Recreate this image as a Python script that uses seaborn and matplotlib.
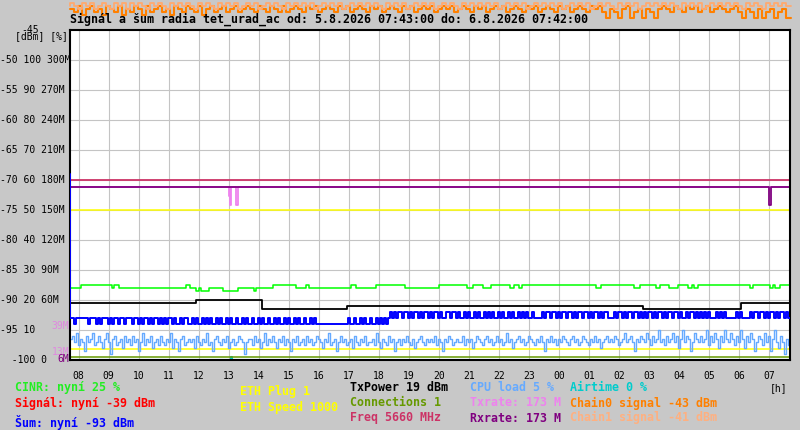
import numpy as np
import matplotlib
matplotlib.use("Agg")
import matplotlib.pyplot as plt
import matplotlib.transforms as mtransforms
import seaborn as sns

# time axis: hours since midnight of 5.8.2026
t_start = 7 + 43 / 60
t_end = 31 + 42 / 60
step_fine = 4 / 60    # noise / CPU samples
step_chain = 8 / 60   # chain signal samples

hour_ticks = list(range(8, 32))
hour_labels = ["08", "09", "10", "11", "12", "13", "14", "15", "16", "17", "18", "19",
               "20", "21", "22", "23", "00", "01", "02", "03", "04", "05", "06", "07"]

grid_dbm = [-50, -55, -60, -65, -70, -75, -80, -85, -90, -95]
ytick_dbm = [-50, -55, -60, -65, -70, -75, -80, -85, -90, -95, -100]
ytick_text = ["-50 100 300M", "-55 90 270M", "-60 80 240M", "-65 70 210M", "-70 60 180M",
              "-75 50 150M", "-80 40 120M", "-85 30 90M", "-90 20 60M", "-95 10", "  -100 0"]
rate_marks = [39, 13, 6]  # M, coloured marks on the left axis
rate_mark_colors = ["#e088e0", "#e088e0", "#800080"]

# CINR [%] - step series (change time, value)
cinr_t = [7.72, 8.08, 9.11, 9.18, 9.35, 11.58, 11.72, 11.91, 12.02, 12.07, 12.36, 12.8, 13.3,
          13.83, 13.9, 14.47, 15.24, 15.58, 15.69, 17.07, 17.23, 17.91, 18.86, 20.02, 20.94,
          21.13, 21.47, 21.74, 22.36, 22.52, 22.66, 22.77, 25.24, 25.41, 26.5, 26.69, 27.24,
          27.36, 27.66, 27.97, 28.3, 28.42, 28.5, 28.63, 30.36, 30.47, 31.02, 31.12, 31.2, 31.36]
cinr_v = [24, 25, 24, 25, 24, 25, 24, 23, 24, 23, 24, 23, 24, 23, 24, 25, 24, 25, 24, 25,
          24, 25, 24, 25, 24, 25, 24, 25, 24, 25, 24, 25, 24, 25, 24, 25, 24, 25, 24, 25,
          24, 25, 24, 25, 24, 25, 24, 25, 24, 25]

# TxPower trace (black), in graph dBm units
txpower_t = [7.72, 11.91, 14.11, 16.94, 26.8, 30.06]
txpower_v = [-90.55, -90.0, -91.55, -91.0, -91.55, -90.55]

# Txrate / Rxrate [M]
txrate_t = [7.72, 13.0, 13.03, 13.06, 13.08, 13.26, 13.32]
txrate_v = [173, 164, 173, 155, 173, 155, 173]
rxrate_t = [7.72, 31.01, 31.07]
rxrate_v = [173, 155, 173]

# Airtime [%]
airtime_t = [7.72, 13.07, 13.12]
airtime_v = [0, 1, 0]

# flat traces, graph dBm units
freq_level = -70.0
eth_speed_level = -75.0
eth_plug_level = -98.2
connections_level = -99.5

# noise [dBm], 4 min samples (first value = start of the trace)
noise = [-69,
         -93, -93, -94, -93, -93, -93, -93, -93, -93, -94, -93, -93, -93, -94, -93,
         -94, -93, -93, -93, -94, -93, -94, -93, -93, -94, -93, -93, -94, -93, -93,
         -93, -94, -93, -93, -94, -93, -94, -93, -93, -94, -93, -94, -93, -93, -94,
         -93, -94, -93, -94, -93, -93, -94, -93, -94, -94, -93, -94, -93, -93, -94,
         -94, -93, -94, -93, -94, -94, -93, -94, -93, -94, -93, -94, -94, -93, -94,
         -93, -94, -94, -93, -94, -93, -94, -94, -93, -94, -94, -93, -94, -93, -94,
         -94, -93, -94, -94, -93, -94, -93, -94, -94, -93, -94, -94, -93, -94, -93,
         -94, -94, -93, -94, -93, -94, -94, -93, -94, -93, -94, -94, -93, -94, -94,
         -93, -94, -93, -94, -94, -94, -94, -94, -94, -94, -94, -94, -94, -94, -94,
         -94, -94, -94, -94, -93, -94, -94, -93, -94, -94, -93, -94, -93, -94, -94,
         -93, -94, -94, -93, -94, -93, -94, -93, -94, -93, -92, -93, -92, -93, -92,
         -92, -93, -92, -92, -93, -92, -93, -92, -92, -93, -92, -93, -92, -92, -93,
         -92, -93, -92, -92, -93, -92, -93, -93, -92, -92, -93, -92, -92, -93, -92,
         -93, -93, -92, -93, -92, -93, -93, -92, -93, -92, -93, -93, -92, -93, -92,
         -93, -92, -93, -93, -92, -93, -92, -93, -93, -92, -93, -92, -93, -93, -92,
         -93, -92, -93, -92, -93, -93, -92, -93, -93, -93, -93, -92, -93, -92, -92,
         -93, -92, -92, -93, -92, -93, -92, -92, -93, -92, -92, -93, -92, -93, -92,
         -92, -93, -92, -92, -93, -92, -93, -92, -92, -93, -92, -93, -92, -92, -93,
         -93, -93, -92, -93, -92, -92, -93, -92, -93, -92, -92, -93, -92, -92, -93,
         -92, -93, -92, -93, -92, -92, -93, -92, -93, -92, -92, -93, -92, -93, -92,
         -92, -93, -92, -92, -93, -92, -93, -93, -92, -93, -92, -92, -93, -92, -93,
         -92, -93, -92, -93, -92, -93, -93, -93, -92, -93, -92, -93, -92, -93, -93,
         -93, -93, -93, -92, -93, -92, -93, -93, -93, -93, -92, -93, -92, -92, -93,
         -92, -92, -93, -92, -93, -92, -92, -93, -92, -93, -92, -92, -93, -92, -93]

# CPU load [%], 4 min samples (first value = start of the trace)
cpu_load = [7,
            7, 8, 6, 9, 5, 7, 6, 3, 8, 6, 7, 9, 5, 6, 8,
            6, 4, 7, 9, 6, 2, 7, 8, 5, 6, 7, 4, 8, 6, 7,
            5, 8, 6, 7, 3, 6, 9, 5, 7, 6, 8, 4, 6, 7, 5,
            8, 6, 5, 7, 6, 9, 4, 7, 6, 3, 7, 8, 5, 6, 7,
            6, 7, 4, 8, 6, 5, 7, 6, 9, 5, 6, 3, 7, 8, 6,
            5, 7, 6, 8, 4, 6, 7, 5, 6, 8, 7, 6, 2, 6, 7,
            7, 5, 8, 6, 7, 4, 6, 9, 5, 7, 6, 8, 6, 4, 7,
            6, 8, 5, 7, 6, 3, 7, 6, 8, 5, 6, 7, 5, 8, 6,
            7, 5, 6, 8, 7, 6, 4, 7, 6, 9, 5, 6, 7, 3, 6,
            8, 6, 7, 5, 6, 7, 4, 8, 6, 5, 7, 6, 8, 5, 6,
            6, 7, 5, 9, 6, 4, 7, 6, 5, 8, 6, 7, 3, 6, 7,
            5, 7, 6, 8, 6, 5, 7, 4, 6, 7, 8, 6, 5, 7, 6,
            7, 6, 8, 5, 7, 6, 3, 7, 6, 8, 7, 5, 6, 7, 6,
            6, 8, 5, 7, 6, 7, 4, 6, 8, 7, 6, 5, 7, 8, 6,
            7, 5, 6, 8, 6, 7, 5, 6, 9, 6, 7, 4, 6, 7, 8,
            6, 7, 5, 6, 8, 7, 6, 5, 7, 6, 8, 6, 3, 7, 6,
            8, 6, 7, 5, 7, 6, 8, 7, 6, 5, 7, 8, 6, 7, 5,
            6, 8, 7, 6, 5, 7, 6, 8, 6, 7, 4, 6, 7, 8, 6,
            7, 6, 8, 7, 5, 6, 7, 9, 6, 7, 8, 6, 3, 7, 6,
            8, 7, 6, 9, 7, 5, 8, 6, 7, 10, 6, 7, 5, 8, 6,
            7, 9, 6, 8, 4, 7, 10, 6, 8, 7, 3, 6, 9, 7, 6,
            8, 6, 7, 10, 5, 8, 6, 9, 7, 4, 8, 6, 10, 7, 6,
            9, 7, 5, 8, 6, 10, 7, 4, 8, 6, 9, 7, 3, 6, 8,
            7, 5, 9, 6, 8, 3, 7, 10, 6, 4, 8, 6, 2, 7, 5]

# chain signals [dBm], 8 min samples (first value = start of the trace)
chain0 = [-41.5, -41.5, -42, -41, -42.5, -41.5, -41, -42, -41.5, -42.5, -41, -41.5, -42, -41, -42.5,
          -41.5, -42, -41, -41.5, -42.5, -41, -42, -41.5, -41, -42, -41.5, -42.5, -41, -41.5, -42,
          -41, -41.5, -42, -41, -42.5, -41.5, -41, -42, -41.5, -41, -42, -41.5, -41, -42, -41.5,
          -41, -41.5, -42, -41, -41.5, -42, -41, -41.5, -42, -41, -42, -41.5, -41, -41.5, -42,
          -41, -41.5, -41, -42, -41.5, -41, -41.5, -42, -41, -41.5, -41, -42, -41.5, -41, -41.5,
          -42, -41, -41.5, -41, -42, -41.5, -41, -41.5, -42, -41, -41.5, -41, -42, -41.5, -41,
          -41.5, -41, -42, -41.5, -41, -41.5, -41, -42, -41.5, -41, -41.5, -42, -41, -41.5, -41,
          -42, -41.5, -41, -41.5, -41, -42, -41.5, -41, -41.5, -42, -41, -41.5, -41, -42, -41.5,
          -41, -41.5, -42, -41, -41.5, -41, -42, -41.5, -41, -41.5, -42, -41, -41.5, -41, -42,
          -43, -41.5, -42, -43, -41.5, -41, -43, -42, -41.5, -43, -41.5, -42, -43, -41.5, -41,
          -41.5, -42, -41, -41.5, -42, -41, -41.5, -41, -42, -41.5, -41, -42, -41.5, -41, -41.5,
          -42, -41.5, -41, -42, -43, -41.5, -42, -43, -41.5, -43, -42, -41.5, -43, -42, -41.5, -43]
chain1 = [-41, -40.5, -41, -41.5, -40.5, -41, -40.5, -41.5, -41, -40.5, -41, -41.5, -40.5, -41, -40.5,
          -41.5, -40.5, -41, -40.5, -41, -41.5, -40.5, -41, -40.5, -41, -41.5, -40.5, -41, -40.5, -41,
          -40.5, -41, -41.5, -40.5, -41, -40.5, -41, -41.5, -40.5, -41, -40.5, -41, -40.5, -41.5, -41,
          -40.5, -41, -40.5, -41.5, -41, -40.5, -41, -40.5, -41, -41.5, -40.5, -41, -40.5, -41, -40.5,
          -41, -40.5, -41.5, -41, -40.5, -41, -40.5, -41, -40.5, -41.5, -41, -40.5, -41, -40.5, -41,
          -40.5, -41, -40.5, -41, -41.5, -40.5, -41, -40.5, -41, -40.5, -41.5, -41, -40.5, -41, -40.5,
          -41, -40.5, -41.5, -41, -40.5, -41, -40.5, -41, -41.5, -40.5, -41, -40.5, -41, -40.5, -41,
          -40.5, -41, -40.5, -41.5, -41, -40.5, -41, -40.5, -41, -40.5, -41.5, -41, -40.5, -41, -40.5,
          -41, -40.5, -41, -40.5, -41.5, -41, -40.5, -41, -40.5, -41, -40.5, -41.5, -41, -40.5, -41,
          -40.5, -41, -41.5, -40.5, -41, -40.5, -41, -40.5, -41.5, -41, -40.5, -41, -40.5, -41, -40.5,
          -41, -40.5, -41, -41.5, -40.5, -41, -40.5, -41, -40.5, -41.5, -41, -40.5, -41, -40.5, -41,
          -40.5, -41, -40.5, -41, -41.5, -40.5, -41, -40.5, -41, -41.5, -40.5, -41, -40.5, -41, -40.5, -41]

title = "Signál a šum radia tet_urad_ac od: 5.8.2026 07:43:00 do: 6.8.2026 07:42:00"
legend_rows = [
    # (x px, baseline px, text, colour)
    (15, 391, "CINR: nyní 25 %", "#22ee22"),
    (15, 406.5, "Signál: nyní -39 dBm", "#ff0000"),
    (15, 426.5, "Šum: nyní -93 dBm", "#0000ff"),
    (240, 395.5, "ETH Plug 1", "#ffff00"),
    (240, 410.5, "ETH Speed 1000", "#ffff00"),
    (350, 391, "TxPower 19 dBm", "#000000"),
    (350, 406.5, "Connections 1", "#669900"),
    (350, 421.5, "Freq 5660 MHz", "#cc3366"),
    (470, 391, "CPU load 5 %", "#66aaff"),
    (470, 406.5, "Txrate: 173 M", "#ee82ee"),
    (470, 421.5, "Rxrate: 173 M", "#800080"),
    (570, 391, "Airtime 0 %", "#00cccc"),
    (570, 406.5, "Chain0 signal -43 dBm", "#ff8000"),
    (570, 421.5, "Chain1 signal -41 dBm", "#ffb080"),
]

sns.set_theme(style="white")
plt.rcParams["font.family"] = ["DejaVu Sans Mono", "DejaVu Sans"]

W, H = 800, 430
fig = plt.figure(figsize=(W / 100, H / 100), dpi=100, facecolor="#c8c8c8")
ax = fig.add_axes([70 / W, 70 / H, 720 / W, 330 / H])
ax.set_facecolor("white")


def pct(v):
    return -100 + np.asarray(v, float) / 2


def mbit(v):
    return -100 + np.asarray(v, float) / 6


def trace(t, v, color, lw=1.1, ds="steps-post", z=3, clip=True):
    sns.lineplot(x=np.asarray(t, float), y=np.asarray(v, float), color=color, linewidth=lw,
                 drawstyle=ds, estimator=None, sort=False, ax=ax, zorder=z, clip_on=clip)


def held(t, v):
    # extend a step series to the right edge
    return list(t) + [t_end], list(v) + [list(v)[-1]]


t_fine = t_start + step_fine * np.arange(len(cpu_load))
t_chain = t_start + step_chain * np.arange(len(chain0))
t_flat = [t_start, t_end]

trace(*held(cinr_t, pct(cinr_v)), "#00ff00")
trace(t_fine, noise, "#0000ff", lw=1.4, ds="steps-pre", z=3.5)
trace(t_flat, [eth_plug_level] * 2, "#ffff00")
trace(t_flat, [eth_speed_level] * 2, "#ffff00")
trace(*held(txpower_t, txpower_v), "#000000", lw=1.3)
trace(t_flat, [connections_level] * 2, "#669900")
trace(t_flat, [freq_level] * 2, "#cc3366", lw=1.3)
trace(t_fine, pct(cpu_load), "#66aaff", lw=1.0, ds="steps-pre")
trace(*held(txrate_t, mbit(txrate_v)), "#ee82ee", lw=1.3)
trace(*held(rxrate_t, mbit(rxrate_v)), "#800080", lw=1.3)
trace(*held(airtime_t, pct(airtime_v)), "#00cccc", lw=1.5, z=1.5)
trace(t_chain, chain0, "#ff8000", lw=1.5, ds="steps-pre", clip=False)
trace(t_chain, chain1, "#ffaa70", lw=1.3, ds="steps-pre", clip=False)

ax.set_xlim(t_start, t_end)
ax.set_ylim(-100, -45)
ax.set_xticks(hour_ticks, hour_labels)
ax.set_yticks(grid_dbm, [""] * len(grid_dbm))
ax.grid(True, color="#c4c4c4", linewidth=0.8)
ax.set_axisbelow(True)
ax.tick_params(axis="x", length=0, pad=8, labelsize=7, labelcolor="black")
ax.tick_params(axis="y", length=0)
ax.set_xlabel("")
ax.set_ylabel("")
for sp in ax.spines.values():
    sp.set_color("black")
    sp.set_linewidth(1.5)
    sp.set_zorder(3.2)

# left axis labels
ylab = mtransforms.blended_transform_factory(fig.transFigure, ax.transData)
for d, s in zip(ytick_dbm, ytick_text):
    ax.text(0 / W, d, s, transform=ylab, fontsize=7, ha="left", va="center",
            color="black", clip_on=False)
for m, c in zip(rate_marks, rate_mark_colors):
    ax.text(69 / W, mbit(m), f"{m}M", transform=ylab, fontsize=7, ha="right",
            va="top", color=c, clip_on=False)

fig.text(21 / W, 1 - 33 / H, "-45", fontsize=7, color="black", va="baseline")
fig.text(15 / W, 1 - 39.5 / H, "[dBm] [%]", fontsize=7, color="black", va="baseline")
fig.text(787 / W, 1 - 391 / H, "[h]", fontsize=7, color="black", ha="right", va="baseline")

fig.text(70 / W, 1 - 23 / H, title, fontsize=8.4, fontweight="bold", color="black",
         va="baseline", zorder=5)
for x, y, s, c in legend_rows:
    fig.text(x / W, 1 - y / H, s, fontsize=8.4, fontweight="bold", color=c, va="baseline")

fig.savefig("out.png", dpi=100, facecolor=fig.get_facecolor())
